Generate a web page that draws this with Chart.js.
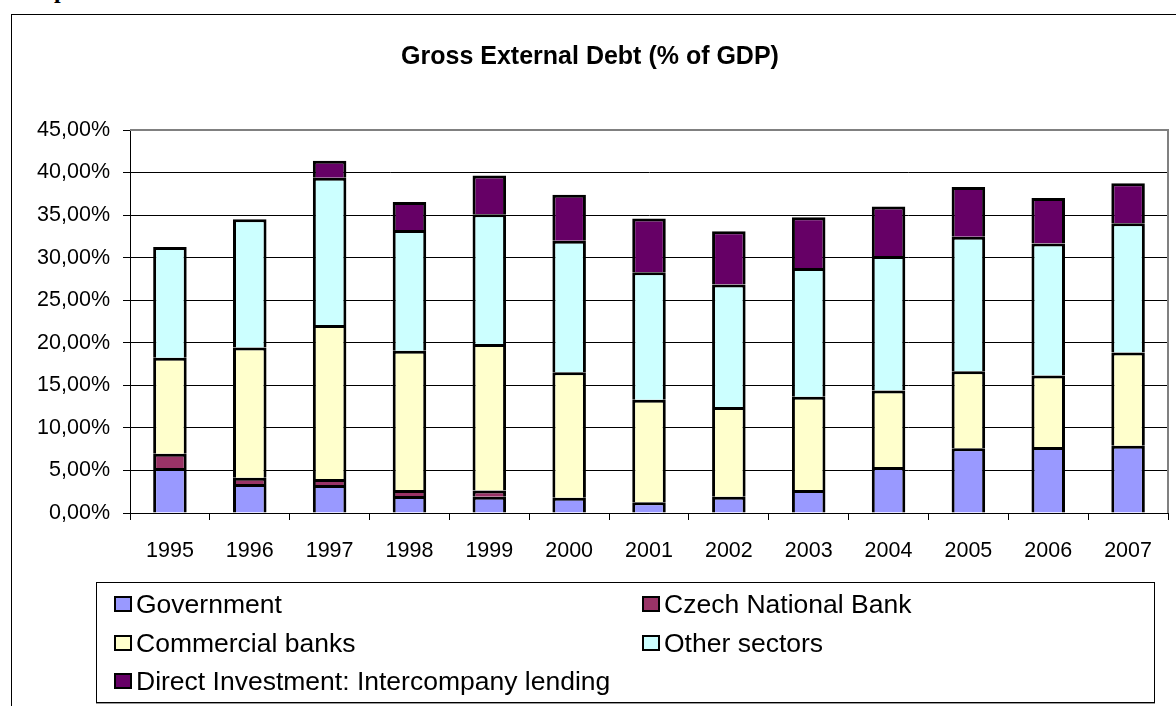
<!DOCTYPE html>
<html>
<head>
<meta charset="utf-8">
<script src="https://cdn.jsdelivr.net/npm/chart.js@4/dist/chart.umd.min.js"></script>
<style>
  html, body { margin: 0; padding: 0; background: #fff; overflow: hidden; }
  body { width: 1176px; height: 706px; position: relative; font-family: "Liberation Sans", Arial, sans-serif; }
  #heading { position: absolute; left: 54px; top: -22px; font: bold 24px/24px "Liberation Serif", "Times New Roman", serif; color: #000; }
  #frame { position: absolute; left: 11px; top: 14px; width: 1180px; height: 691px; border: 1px solid #000; background: #fff; }
  #frame canvas { display: block; }
  #legend { position: absolute; left: 96px; top: 582px; width: 1059px; height: 121px; box-sizing: border-box;
            border: 1px solid #000; box-shadow: 0 1px 0 #999; background: #fff; }
  .item { position: absolute; height: 30px; display: flex; align-items: center; white-space: nowrap;
          font-size: 26.5px; color: #000; }
  .swatch { width: 18px; height: 16px; box-sizing: border-box; border: 2px solid #000; margin-right: 4px; }
</style>
</head>
<body>
<div id="heading">p</div>
<div id="frame"><canvas id="chart" width="1180" height="691"></canvas></div>
<div id="legend"></div>
<script>
// Gross external debt by sector, % of GDP
const years = ['1995','1996','1997','1998','1999','2000','2001','2002','2003','2004','2005','2006','2007'];
const government       = [5.3, 3.4, 3.3, 2.0, 1.9, 1.8, 1.25, 1.9, 2.7, 5.4, 7.6, 7.75, 7.9];
const czechNationalBank = [1.65, 0.75, 0.7, 0.7, 0.75, 0, 0, 0, 0, 0, 0, 0, 0];
const commercialBanks  = [11.3, 15.3, 18.1, 16.35, 17.2, 14.75, 12.05, 10.55, 10.95, 9.0, 9.05, 8.4, 10.95];
const otherSectors     = [13.0, 15.05, 17.3, 14.2, 15.25, 15.45, 15.0, 14.4, 15.15, 15.8, 15.8, 15.5, 15.2];
const directInvestment = [0, 0, 2.0, 3.3, 4.55, 5.4, 6.3, 6.25, 5.95, 5.8, 5.85, 5.35, 4.7];
const yTickLabels = ['0,00%','5,00%','10,00%','15,00%','20,00%','25,00%','30,00%','35,00%','40,00%','45,00%'];

Chart.defaults.font.family = '"Liberation Sans", Arial, sans-serif';
Chart.defaults.color = '#000';

function series(label, data, color) {
  return {
    label, data,
    backgroundColor: color,
    borderColor: '#000',
    borderWidth: 3,
    borderSkipped: 'start',
    categoryPercentage: 1,
    barPercentage: 0.42
  };
}

// grey frame on the top and right of the plot area
const plotFrame = {
  id: 'plotFrame',
  afterDatasetsDraw(chart) {
    const { ctx, chartArea: a } = chart;
    ctx.save();
    ctx.strokeStyle = '#808080';
    ctx.lineWidth = 2;
    ctx.beginPath();
    ctx.moveTo(a.left, a.top);
    ctx.lineTo(a.right, a.top);
    ctx.lineTo(a.right, a.bottom);
    ctx.stroke();
    ctx.restore();
  }
};

const chart = new Chart(document.getElementById('chart'), {
  type: 'bar',
  data: {
    labels: years,
    datasets: [
      series('Government', government, '#9999FF'),
      series('Czech National Bank', czechNationalBank, '#993366'),
      series('Commercial banks', commercialBanks, '#FFFFCC'),
      series('Other sectors', otherSectors, '#CCFFFF'),
      series('Direct Investment: Intercompany lending', directInvestment, '#660066')
    ]
  },
  options: {
    responsive: false,
    animation: false,
    layout: { padding: { left: 0, right: 24, top: 0, bottom: 133 } },
    plugins: {
      legend: { display: false },
      tooltip: { enabled: false },
      title: {
        display: true,
        text: 'Gross External Debt (% of GDP)',
        color: '#000',
        font: { size: 25, weight: 'bold' },
        padding: { top: 27, bottom: 58 }
      }
    },
    scales: {
      x: {
        stacked: true,
        grid: { drawOnChartArea: false, drawTicks: true, tickLength: 7, color: '#000', offset: true },
        border: { display: true, color: '#000', width: 1 },
        ticks: { font: { size: 21.5 }, color: '#000', padding: 18, maxRotation: 0, autoSkip: false },
        afterFit(scale) { scale.height = 60; }
      },
      y: {
        stacked: true,
        min: 0, max: 45,
        grid: { color: '#000', lineWidth: 1, drawTicks: true, tickLength: 7 },
        border: { display: true, color: '#000', width: 1 },
        ticks: {
          stepSize: 5,
          font: { size: 21.5 },
          color: '#000',
          padding: 13,
          callback: (v, i) => yTickLabels[i]
        },
        afterFit(scale) { scale.width = 118; }
      }
    }
  },
  plugins: [plotFrame]
});

// two-column legend built from the chart's datasets
const legendBox = document.getElementById('legend');
const colX = [17, 545];
const rowY = [21, 60, 98];
chart.data.datasets.forEach((ds, i) => {
  const item = document.createElement('div');
  item.className = 'item';
  item.style.left = colX[i % 2] + 'px';
  item.style.top = (rowY[Math.floor(i / 2)] - 15) + 'px';
  const sw = document.createElement('span');
  sw.className = 'swatch';
  sw.style.background = ds.backgroundColor;
  const tx = document.createElement('span');
  tx.textContent = ds.label;
  item.appendChild(sw);
  item.appendChild(tx);
  legendBox.appendChild(item);
});
</script>
</body>
</html>
